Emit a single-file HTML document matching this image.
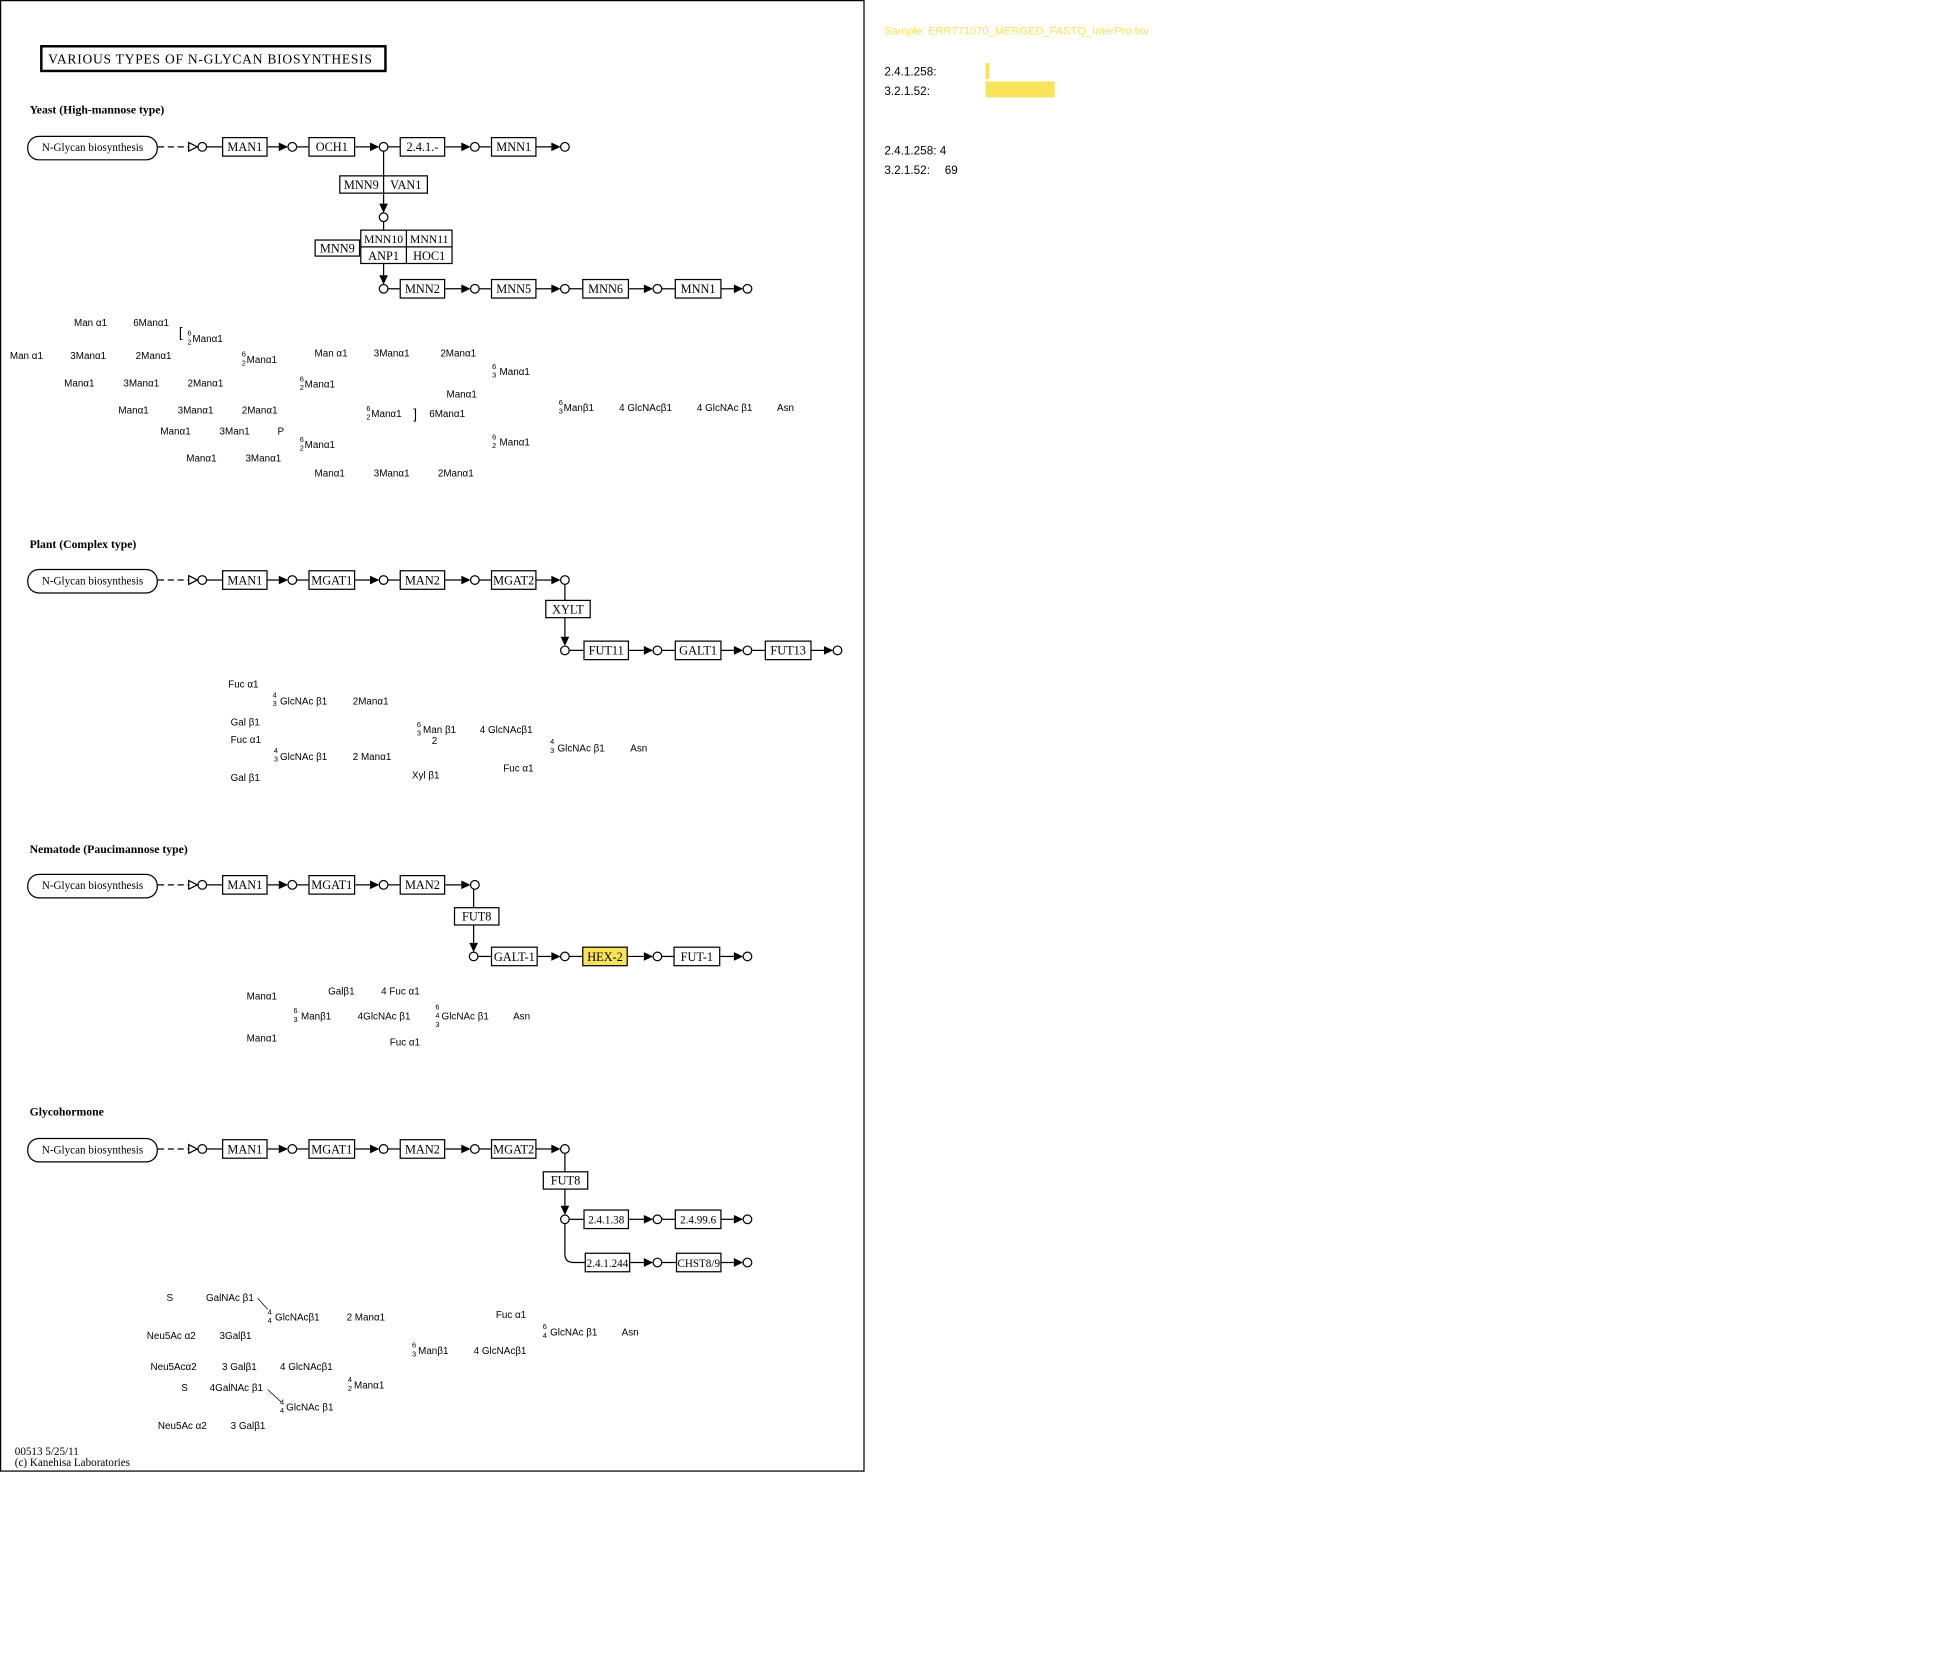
<!DOCTYPE html>
<html><head><meta charset="utf-8"><style>
html,body{margin:0;padding:0;background:#fff;width:1934px;height:1671px;overflow:hidden}
svg{display:block}
.g{font-family:"Liberation Sans",sans-serif;font-size:8px;fill:#000}
.d{font-family:"Liberation Sans",sans-serif;font-size:6px;fill:#000}
.b{font-family:"Liberation Serif",serif;font-size:10px;fill:#000;text-anchor:middle}
.h{font-family:"Liberation Serif",serif;font-size:9.5px;font-weight:bold;fill:#000}
.r{font-family:"Liberation Sans",sans-serif;font-size:9.5px;fill:#000}
rect.bx{fill:#fff;stroke:#000;stroke-width:1}
circle{fill:#fff;stroke:#000;stroke-width:1}
line,path.l{stroke:#000;stroke-width:1;fill:none}
polygon.a{fill:#000}
</style></head><body>
<svg width="1934" height="1671" viewBox="0 0 1568 1354" preserveAspectRatio="none" xmlns="http://www.w3.org/2000/svg">
<rect x="0.5" y="0.5" width="700" height="1191.5" fill="#fff" stroke="#000" stroke-width="1"/>
<!-- title -->
<rect x="33.5" y="37.5" width="279" height="20" fill="#fff" stroke="#000" stroke-width="2"/>
<text x="39" y="51.5" style="font-family:'Liberation Serif',serif;font-size:11px;letter-spacing:0.6px">VARIOUS  TYPES  OF  N-GLYCAN  BIOSYNTHESIS</text>

<!-- ===== YEAST ===== -->
<text class="h" x="24" y="92">Yeast (High-mannose type)</text>
<g>
<rect x="22.5" y="110.5" width="105" height="19" rx="9" fill="#fff" stroke="#000"/>
<text class="b" x="75" y="122.5" style="font-size:9px">N-Glycan biosynthesis</text>
<line x1="128" y1="119" x2="153" y2="119" stroke-dasharray="5,3"/>
<polygon points="153,115.5 160,119 153,122.5" fill="#fff" stroke="#000"/>
<circle cx="164" cy="119" r="3.5"/>
<line x1="167.5" y1="119" x2="180" y2="119"/>
<rect class="bx" x="180.5" y="111.5" width="36" height="15"/><text class="b" x="198.5" y="122.5">MAN1</text>
<line x1="217" y1="119" x2="226" y2="119"/><polygon class="a" points="226,115.5 233.5,119 226,122.5"/>
<circle cx="237" cy="119" r="3.5"/>
<line x1="240.5" y1="119" x2="250" y2="119"/>
<rect class="bx" x="250.5" y="111.5" width="37" height="15"/><text class="b" x="269" y="122.5">OCH1</text>
<line x1="288" y1="119" x2="300" y2="119"/><polygon class="a" points="300,115.5 307.5,119 300,122.5"/>
<circle cx="311" cy="119" r="3.5"/>
<line x1="314.5" y1="119" x2="324" y2="119"/>
<rect class="bx" x="324.5" y="111.5" width="36" height="15"/><text class="b" x="342.5" y="122.5">2.4.1.-</text>
<line x1="361" y1="119" x2="374" y2="119"/><polygon class="a" points="374,115.5 381.5,119 374,122.5"/>
<circle cx="385" cy="119" r="3.5"/>
<line x1="388.5" y1="119" x2="398" y2="119"/>
<rect class="bx" x="398.5" y="111.5" width="36" height="15"/><text class="b" x="416.5" y="122.5">MNN1</text>
<line x1="435" y1="119" x2="447" y2="119"/><polygon class="a" points="447,115.5 454.5,119 447,122.5"/>
<circle cx="458" cy="119" r="3.5"/>
<!-- vertical -->
<line x1="311" y1="122.5" x2="311" y2="165"/>
<rect class="bx" x="275.5" y="142.5" width="71" height="14"/><line x1="311" y1="142.5" x2="311" y2="156.5"/>
<text class="b" x="293" y="153">MNN9</text><text class="b" x="329" y="153">VAN1</text>
<polygon class="a" points="307.5,165 314.5,165 311,172.5"/>
<circle cx="311" cy="176" r="3.5"/>
<line x1="311" y1="179.5" x2="311" y2="186"/>
<rect class="bx" x="255.5" y="194.5" width="36" height="13"/><text class="b" x="273.5" y="204.5">MNN9</text>
<rect class="bx" x="292.5" y="186.5" width="74" height="27"/>
<line x1="329.5" y1="186.5" x2="329.5" y2="213.5"/><line x1="292.5" y1="200" x2="366.5" y2="200"/>
<text class="b" x="311" y="197" style="font-size:9.5px">MNN10</text><text class="b" x="348" y="197" style="font-size:9.5px">MNN11</text>
<text class="b" x="311" y="210.5">ANP1</text><text class="b" x="348" y="210.5">HOC1</text>
<line x1="311" y1="214" x2="311" y2="223"/>
<polygon class="a" points="307.5,223 314.5,223 311,230.5"/>
<circle cx="311" cy="234" r="3.5"/>
<line x1="314.5" y1="234" x2="324" y2="234"/>
<rect class="bx" x="324.5" y="226.5" width="36" height="15"/><text class="b" x="342.5" y="237.5">MNN2</text>
<line x1="361" y1="234" x2="374" y2="234"/><polygon class="a" points="374,230.5 381.5,234 374,237.5"/>
<circle cx="385" cy="234" r="3.5"/>
<line x1="388.5" y1="234" x2="398" y2="234"/>
<rect class="bx" x="398.5" y="226.5" width="36" height="15"/><text class="b" x="416.5" y="237.5">MNN5</text>
<line x1="435" y1="234" x2="447" y2="234"/><polygon class="a" points="447,230.5 454.5,234 447,237.5"/>
<circle cx="458" cy="234" r="3.5"/>
<line x1="461.5" y1="234" x2="472" y2="234"/>
<rect class="bx" x="472.5" y="226.5" width="37" height="15"/><text class="b" x="491" y="237.5">MNN6</text>
<line x1="510" y1="234" x2="522" y2="234"/><polygon class="a" points="522,230.5 529.5,234 522,237.5"/>
<circle cx="533" cy="234" r="3.5"/>
<line x1="536.5" y1="234" x2="547" y2="234"/>
<rect class="bx" x="547.5" y="226.5" width="37" height="15"/><text class="b" x="566" y="237.5">MNN1</text>
<line x1="585" y1="234" x2="595" y2="234"/><polygon class="a" points="595,230.5 602.5,234 595,237.5"/>
<circle cx="606" cy="234" r="3.5"/>
</g>
<!-- yeast glycan -->
<g>
<text class="g" x="60" y="264">Man α1</text><text class="g" x="108" y="264">6Manα1</text>
<text class="g" x="145" y="273" style="font-size:11px">[</text>
<text class="d" x="152" y="272">6</text><text class="d" x="152" y="279">2</text><text class="g" x="156" y="277">Manα1</text>
<text class="g" x="8" y="291">Man α1</text><text class="g" x="57" y="291">3Manα1</text><text class="g" x="110" y="291">2Manα1</text>
<text class="d" x="196" y="289">6</text><text class="d" x="196" y="296">2</text><text class="g" x="200" y="294">Manα1</text>
<text class="g" x="255" y="289">Man α1</text><text class="g" x="303" y="289">3Manα1</text><text class="g" x="357" y="289">2Manα1</text>
<text class="d" x="399" y="299">6</text><text class="d" x="399" y="306">3</text><text class="g" x="405" y="304">Manα1</text>
<text class="g" x="52" y="313">Manα1</text><text class="g" x="100" y="313">3Manα1</text><text class="g" x="152" y="313">2Manα1</text>
<text class="d" x="243" y="309">6</text><text class="d" x="243" y="316">2</text><text class="g" x="247" y="314">Manα1</text>
<text class="g" x="362" y="322">Manα1</text>
<text class="g" x="96" y="335">Manα1</text><text class="g" x="144" y="335">3Manα1</text><text class="g" x="196" y="335">2Manα1</text>
<text class="d" x="297" y="333">6</text><text class="d" x="297" y="340">2</text><text class="g" x="301" y="338">Manα1</text>
<text class="g" x="335" y="339" style="font-size:11px">]</text><text class="g" x="348" y="338">6Manα1</text>
<text class="d" x="453" y="328">6</text><text class="d" x="453" y="335">3</text><text class="g" x="457" y="333">Manβ1</text>
<text class="g" x="502" y="333">4 GlcNAcβ1</text><text class="g" x="565" y="333">4 GlcNAc β1</text><text class="g" x="630" y="333">Asn</text>
<text class="g" x="130" y="352">Manα1</text><text class="g" x="178" y="352">3Man1</text><text class="g" x="225" y="352">P</text>
<text class="d" x="243" y="358">6</text><text class="d" x="243" y="365">2</text><text class="g" x="247" y="363">Manα1</text>
<text class="d" x="399" y="356">6</text><text class="d" x="399" y="363">2</text><text class="g" x="405" y="361">Manα1</text>
<text class="g" x="151" y="374">Manα1</text><text class="g" x="199" y="374">3Manα1</text>
<text class="g" x="255" y="386">Manα1</text><text class="g" x="303" y="386">3Manα1</text><text class="g" x="355" y="386">2Manα1</text>
</g>

<!-- ===== PLANT ===== -->
<text class="h" x="24" y="444">Plant (Complex type)</text>
<g>
<rect x="22.5" y="461.5" width="105" height="19" rx="9" fill="#fff" stroke="#000"/>
<text class="b" x="75" y="473.5" style="font-size:9px">N-Glycan biosynthesis</text>
<line x1="128" y1="470" x2="153" y2="470" stroke-dasharray="5,3"/>
<polygon points="153,466.5 160,470 153,473.5" fill="#fff" stroke="#000"/>
<circle cx="164" cy="470" r="3.5"/>
<line x1="167.5" y1="470" x2="180" y2="470"/>
<rect class="bx" x="180.5" y="462.5" width="36" height="15"/><text class="b" x="198.5" y="473.5">MAN1</text>
<line x1="217" y1="470" x2="226" y2="470"/><polygon class="a" points="226,466.5 233.5,470 226,473.5"/>
<circle cx="237" cy="470" r="3.5"/>
<line x1="240.5" y1="470" x2="250" y2="470"/>
<rect class="bx" x="250.5" y="462.5" width="37" height="15"/><text class="b" x="269" y="473.5">MGAT1</text>
<line x1="288" y1="470" x2="300" y2="470"/><polygon class="a" points="300,466.5 307.5,470 300,473.5"/>
<circle cx="311" cy="470" r="3.5"/>
<line x1="314.5" y1="470" x2="324" y2="470"/>
<rect class="bx" x="324.5" y="462.5" width="36" height="15"/><text class="b" x="342.5" y="473.5">MAN2</text>
<line x1="361" y1="470" x2="374" y2="470"/><polygon class="a" points="374,466.5 381.5,470 374,473.5"/>
<circle cx="385" cy="470" r="3.5"/>
<line x1="388.5" y1="470" x2="398" y2="470"/>
<rect class="bx" x="398.5" y="462.5" width="36" height="15"/><text class="b" x="416.5" y="473.5">MGAT2</text>
<line x1="435" y1="470" x2="447" y2="470"/><polygon class="a" points="447,466.5 454.5,470 447,473.5"/>
<circle cx="458" cy="470" r="3.5"/>
<line x1="458" y1="473.5" x2="458" y2="516"/>
<rect class="bx" x="442.5" y="486.5" width="36" height="14"/><text class="b" x="460.5" y="497">XYLT</text>
<polygon class="a" points="454.5,516 461.5,516 458,523.5"/>
<circle cx="458" cy="527" r="3.5"/>
<line x1="461.5" y1="527" x2="473" y2="527"/>
<rect class="bx" x="473.5" y="519.5" width="36" height="15"/><text class="b" x="491.5" y="530.5">FUT11</text>
<line x1="510" y1="527" x2="522" y2="527"/><polygon class="a" points="522,523.5 529.5,527 522,530.5"/>
<circle cx="533" cy="527" r="3.5"/>
<line x1="536.5" y1="527" x2="547" y2="527"/>
<rect class="bx" x="547.5" y="519.5" width="37" height="15"/><text class="b" x="566" y="530.5">GALT1</text>
<line x1="585" y1="527" x2="595" y2="527"/><polygon class="a" points="595,523.5 602.5,527 595,530.5"/>
<circle cx="606" cy="527" r="3.5"/>
<line x1="609.5" y1="527" x2="620" y2="527"/>
<rect class="bx" x="620.5" y="519.5" width="37" height="15"/><text class="b" x="639" y="530.5">FUT13</text>
<line x1="658" y1="527" x2="668" y2="527"/><polygon class="a" points="668,523.5 675.5,527 668,530.5"/>
<circle cx="679" cy="527" r="3.5"/>
</g>
<g>
<text class="g" x="185" y="557">Fuc α1</text>
<text class="d" x="221" y="565">4</text><text class="d" x="221" y="572">3</text><text class="g" x="227" y="571">GlcNAc β1</text><text class="g" x="286" y="571">2Manα1</text>
<text class="g" x="187" y="588">Gal β1</text>
<text class="g" x="187" y="602">Fuc α1</text>
<text class="d" x="338" y="589">6</text><text class="d" x="338" y="596">3</text><text class="g" x="343" y="594">Man β1</text><text class="g" x="350" y="603">2</text>
<text class="g" x="389" y="594">4 GlcNAcβ1</text>
<text class="d" x="446" y="603">4</text><text class="d" x="446" y="610">3</text><text class="g" x="452" y="609">GlcNAc β1</text><text class="g" x="511" y="609">Asn</text>
<text class="d" x="222" y="610">4</text><text class="d" x="222" y="617">3</text><text class="g" x="227" y="616">GlcNAc β1</text><text class="g" x="286" y="616">2 Manα1</text>
<text class="g" x="408" y="625">Fuc α1</text>
<text class="g" x="187" y="633">Gal β1</text><text class="g" x="334" y="631">Xyl β1</text>
</g>

<!-- ===== NEMATODE ===== -->
<text class="h" x="24" y="691">Nematode (Paucimannose type)</text>
<g>
<rect x="22.5" y="708.5" width="105" height="19" rx="9" fill="#fff" stroke="#000"/>
<text class="b" x="75" y="720.5" style="font-size:9px">N-Glycan biosynthesis</text>
<line x1="128" y1="717" x2="153" y2="717" stroke-dasharray="5,3"/>
<polygon points="153,713.5 160,717 153,720.5" fill="#fff" stroke="#000"/>
<circle cx="164" cy="717" r="3.5"/>
<line x1="167.5" y1="717" x2="180" y2="717"/>
<rect class="bx" x="180.5" y="709.5" width="36" height="15"/><text class="b" x="198.5" y="720.5">MAN1</text>
<line x1="217" y1="717" x2="226" y2="717"/><polygon class="a" points="226,713.5 233.5,717 226,720.5"/>
<circle cx="237" cy="717" r="3.5"/>
<line x1="240.5" y1="717" x2="250" y2="717"/>
<rect class="bx" x="250.5" y="709.5" width="37" height="15"/><text class="b" x="269" y="720.5">MGAT1</text>
<line x1="288" y1="717" x2="300" y2="717"/><polygon class="a" points="300,713.5 307.5,717 300,720.5"/>
<circle cx="311" cy="717" r="3.5"/>
<line x1="314.5" y1="717" x2="324" y2="717"/>
<rect class="bx" x="324.5" y="709.5" width="36" height="15"/><text class="b" x="342.5" y="720.5">MAN2</text>
<line x1="361" y1="717" x2="374" y2="717"/><polygon class="a" points="374,713.5 381.5,717 374,720.5"/>
<circle cx="385" cy="717" r="3.5"/>
<line x1="384" y1="720.5" x2="384" y2="764"/>
<rect class="bx" x="368.5" y="735.5" width="36" height="14"/><text class="b" x="386.5" y="746">FUT8</text>
<polygon class="a" points="380.5,764 387.5,764 384,771.5"/>
<circle cx="384" cy="775" r="3.5"/>
<line x1="387.5" y1="775" x2="398" y2="775"/>
<rect class="bx" x="398.5" y="767.5" width="37" height="15"/><text class="b" x="417" y="778.5">GALT-1</text>
<line x1="436" y1="775" x2="447" y2="775"/><polygon class="a" points="447,771.5 454.5,775 447,778.5"/>
<circle cx="458" cy="775" r="3.5"/>
<line x1="461.5" y1="775" x2="472" y2="775"/>
<rect x="472.5" y="767.5" width="36" height="15" fill="#f9e35a" stroke="#000"/><text class="b" x="490.5" y="778.5">HEX-2</text>
<line x1="509" y1="775" x2="522" y2="775"/><polygon class="a" points="522,771.5 529.5,775 522,778.5"/>
<circle cx="533" cy="775" r="3.5"/>
<line x1="536.5" y1="775" x2="546" y2="775"/>
<rect class="bx" x="546.5" y="767.5" width="37" height="15"/><text class="b" x="565" y="778.5">FUT-1</text>
<line x1="584" y1="775" x2="595" y2="775"/><polygon class="a" points="595,771.5 602.5,775 595,778.5"/>
<circle cx="606" cy="775" r="3.5"/>
</g>
<g>
<text class="g" x="200" y="810">Manα1</text><text class="g" x="266" y="806">Galβ1</text><text class="g" x="309" y="806">4 Fuc α1</text>
<text class="d" x="238" y="821">6</text><text class="d" x="238" y="828">3</text><text class="g" x="244" y="826">Manβ1</text>
<text class="g" x="290" y="826">4GlcNAc β1</text>
<text class="d" x="353" y="818">6</text><text class="d" x="353" y="825">4</text><text class="d" x="353" y="832">3</text><text class="g" x="358" y="826">GlcNAc β1</text>
<text class="g" x="416" y="826">Asn</text>
<text class="g" x="200" y="844">Manα1</text><text class="g" x="316" y="847">Fuc α1</text>
</g>

<!-- ===== GLYCOHORMONE ===== -->
<text class="h" x="24" y="904">Glycohormone</text>
<g>
<rect x="22.5" y="922.5" width="105" height="19" rx="9" fill="#fff" stroke="#000"/>
<text class="b" x="75" y="934.5" style="font-size:9px">N-Glycan biosynthesis</text>
<line x1="128" y1="931" x2="153" y2="931" stroke-dasharray="5,3"/>
<polygon points="153,927.5 160,931 153,934.5" fill="#fff" stroke="#000"/>
<circle cx="164" cy="931" r="3.5"/>
<line x1="167.5" y1="931" x2="180" y2="931"/>
<rect class="bx" x="180.5" y="923.5" width="36" height="15"/><text class="b" x="198.5" y="934.5">MAN1</text>
<line x1="217" y1="931" x2="226" y2="931"/><polygon class="a" points="226,927.5 233.5,931 226,934.5"/>
<circle cx="237" cy="931" r="3.5"/>
<line x1="240.5" y1="931" x2="250" y2="931"/>
<rect class="bx" x="250.5" y="923.5" width="37" height="15"/><text class="b" x="269" y="934.5">MGAT1</text>
<line x1="288" y1="931" x2="300" y2="931"/><polygon class="a" points="300,927.5 307.5,931 300,934.5"/>
<circle cx="311" cy="931" r="3.5"/>
<line x1="314.5" y1="931" x2="324" y2="931"/>
<rect class="bx" x="324.5" y="923.5" width="36" height="15"/><text class="b" x="342.5" y="934.5">MAN2</text>
<line x1="361" y1="931" x2="374" y2="931"/><polygon class="a" points="374,927.5 381.5,931 374,934.5"/>
<circle cx="385" cy="931" r="3.5"/>
<line x1="388.5" y1="931" x2="398" y2="931"/>
<rect class="bx" x="398.5" y="923.5" width="36" height="15"/><text class="b" x="416.5" y="934.5">MGAT2</text>
<line x1="435" y1="931" x2="447" y2="931"/><polygon class="a" points="447,927.5 454.5,931 447,934.5"/>
<circle cx="458" cy="931" r="3.5"/>
<line x1="458" y1="934.5" x2="458" y2="977"/>
<rect class="bx" x="440.5" y="949.5" width="36" height="14"/><text class="b" x="458.5" y="960">FUT8</text>
<polygon class="a" points="454.5,977 461.5,977 458,984.5"/>
<circle cx="458" cy="988" r="3.5"/>
<line x1="461.5" y1="988" x2="473" y2="988"/>
<rect class="bx" x="473.5" y="980.5" width="36" height="15"/><text class="b" x="491.5" y="991.5" style="font-size:9px">2.4.1.38</text>
<line x1="510" y1="988" x2="522" y2="988"/><polygon class="a" points="522,984.5 529.5,988 522,991.5"/>
<circle cx="533" cy="988" r="3.5"/>
<line x1="536.5" y1="988" x2="547" y2="988"/>
<rect class="bx" x="547.5" y="980.5" width="37" height="15"/><text class="b" x="566" y="991.5" style="font-size:9px">2.4.99.6</text>
<line x1="585" y1="988" x2="595" y2="988"/><polygon class="a" points="595,984.5 602.5,988 595,991.5"/>
<circle cx="606" cy="988" r="3.5"/>
<path class="l" d="M458,991.5 V1016 Q458,1023 465,1023 H474"/>
<rect class="bx" x="474.5" y="1015.5" width="36" height="15"/><text class="b" x="492.5" y="1026.5" style="font-size:9px">2.4.1.244</text>
<line x1="511" y1="1023" x2="522" y2="1023"/><polygon class="a" points="522,1019.5 529.5,1023 522,1026.5"/>
<circle cx="533" cy="1023" r="3.5"/>
<line x1="536.5" y1="1023" x2="548" y2="1023"/>
<rect class="bx" x="548.5" y="1015.5" width="36" height="15"/><text class="b" x="566.5" y="1026.5" style="font-size:9px">CHST8/9</text>
<line x1="585" y1="1023" x2="595" y2="1023"/><polygon class="a" points="595,1019.5 602.5,1023 595,1026.5"/>
<circle cx="606" cy="1023" r="3.5"/>
</g>
<g>
<text class="g" x="135" y="1054">S</text><text class="g" x="167" y="1054">GalNAc β1</text>
<line x1="209" y1="1052" x2="217" y2="1061" style="stroke-width:0.6"/>
<text class="d" x="217" y="1065">4</text><text class="d" x="217" y="1072">4</text><text class="g" x="223" y="1070">GlcNAcβ1</text><text class="g" x="281" y="1070">2 Manα1</text>
<text class="g" x="402" y="1068">Fuc α1</text>
<text class="d" x="440" y="1077">6</text><text class="d" x="440" y="1084">4</text><text class="g" x="446" y="1082">GlcNAc β1</text><text class="g" x="504" y="1082">Asn</text>
<text class="g" x="119" y="1085">Neu5Ac α2</text><text class="g" x="178" y="1085">3Galβ1</text>
<text class="d" x="334" y="1092">6</text><text class="d" x="334" y="1099">3</text><text class="g" x="339" y="1097">Manβ1</text><text class="g" x="384" y="1097">4 GlcNAcβ1</text>
<text class="g" x="122" y="1110">Neu5Acα2</text><text class="g" x="180" y="1110">3 Galβ1</text><text class="g" x="227" y="1110">4 GlcNAcβ1</text>
<text class="d" x="282" y="1120">4</text><text class="d" x="282" y="1127">2</text><text class="g" x="287" y="1125">Manα1</text>
<text class="g" x="147" y="1127">S</text><text class="g" x="170" y="1127">4GalNAc β1</text>
<line x1="217" y1="1126" x2="228" y2="1136" style="stroke-width:0.6"/>
<text class="d" x="227" y="1138">4</text><text class="d" x="227" y="1145">4</text><text class="g" x="232" y="1143">GlcNAc β1</text>
<text class="g" x="128" y="1158">Neu5Ac α2</text><text class="g" x="187" y="1158">3 Galβ1</text>
</g>
<text x="12" y="1179" style="font-family:'Liberation Serif',serif;font-size:9px">00513 5/25/11</text>
<text x="12" y="1188" style="font-family:'Liberation Serif',serif;font-size:9px">(c) Kanehisa Laboratories</text>

<!-- right panel -->
<text x="717" y="28" style="font-family:'Liberation Sans',sans-serif;font-size:9px;fill:#f9e35a">Sample: ERR771070_MERGED_FASTQ_InterPro.tsv</text>
<text class="r" x="717" y="61">2.4.1.258:</text>
<rect x="799" y="51" width="3" height="13" fill="#f9e35a"/>
<text class="r" x="717" y="77">3.2.1.52:</text>
<rect x="799" y="66" width="56" height="13" fill="#f9e35a"/>
<text class="r" x="717" y="125">2.4.1.258:  4</text>
<text class="r" x="717" y="141">3.2.1.52:</text><text class="r" x="766" y="141">69</text>
</svg>
</body></html>
